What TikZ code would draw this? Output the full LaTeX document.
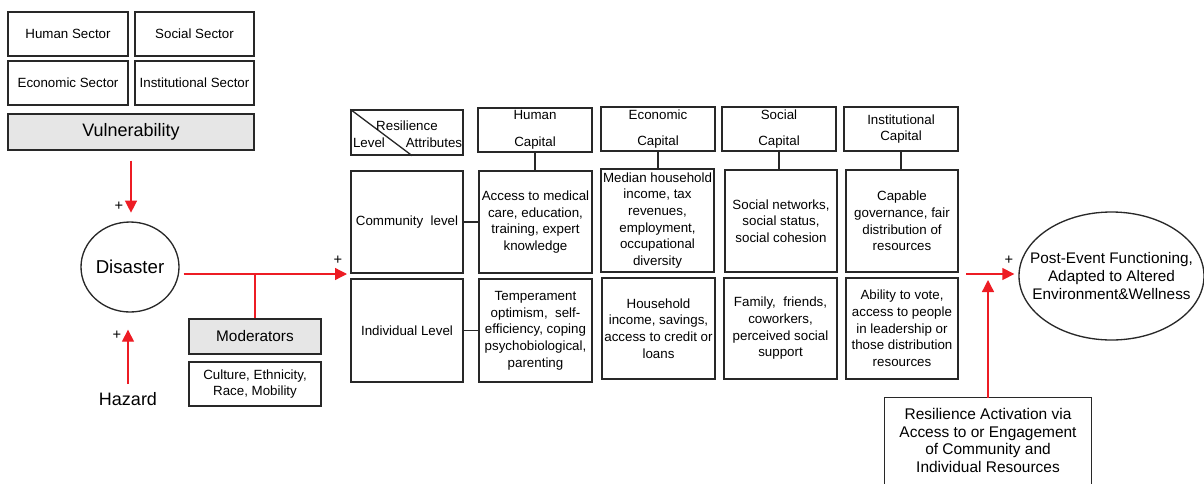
\documentclass[tikz,border=0pt]{standalone}
\usepackage{fontspec}
\setmainfont{Liberation Sans}
\usetikzlibrary{shapes.geometric,arrows.meta,calc}
\definecolor{myred}{RGB}{237,28,36}
\definecolor{boxgray}{RGB}{230,230,230}
\definecolor{edgec}{RGB}{40,40,40}
\newcommand{\mybox}[7][]{%
  \node[box,#1,minimum width={(#5-#3)*0.75pt},minimum height={(#6-#4)*0.75pt}] (#2) at ({(#3+#5)/2},{(#4+#6)/2}) {#7};}
\tikzset{
  box/.style={draw=edgec, line width=1pt, inner sep=0pt, align=center, font=\fontsize{10}{12.5}\selectfont},
  graybox/.style={fill=boxgray},
  redarrow/.style={draw=myred, line width=1pt, -{Triangle[length=9pt,width=9pt]}},
  redline/.style={draw=myred, line width=1pt},
  conn/.style={draw=edgec, line width=1pt},
  plus/.style={inner sep=0pt, font=\fontsize{11}{12}\selectfont},
  lbl/.style={inner sep=0pt, font=\fontsize{10}{12}\selectfont},
}
\begin{document}
\begin{tikzpicture}[x=0.75pt,y=-0.75pt]
\useasboundingbox (0,0) rectangle (1204,483);
\begin{scope}
\clip (0,0) rectangle (1204,483);
% sectors
\mybox{hs}{8}{12}{128}{56}{Human Sector}
\mybox{ss}{135}{12}{254}{56}{Social Sector}
\mybox{es}{8}{61}{128}{105}{Economic Sector}
\mybox{is}{135}{61}{254}{105}{Institutional Sector}
\mybox[graybox,font=\fontsize{13.5}{16}\selectfont]{vul}{8}{114}{254}{150}{Vulnerability}
% disaster
\node[ellipse, draw=edgec, line width=1pt, minimum width=98*0.75pt, minimum height=90*0.75pt, inner sep=0pt, font=\fontsize{14}{16}\selectfont] (dis) at (130,267) {Disaster};
\node[inner sep=0pt, font=\fontsize{13.5}{16}\selectfont] (haz) at (128,399) {Hazard};
\mybox[graybox,font=\fontsize{11.5}{14}\selectfont]{mod}{189}{319}{321}{354}{Moderators}
\mybox{cul}{189}{362}{321}{406}{Culture, Ethnicity,\\Race, Mobility}
% table header
\mybox{rh}{351}{110}{463}{155}{}
\draw[conn] (rh.north west) -- ($(rh.south west)!0.545!(rh.south east)$);
\node[lbl] (rhres) at (407,126) {Resilience};
\node[lbl] (rhlev) at (369,143) {Level};
\node[lbl] (rhatt) at (434,143) {Attributes};
\mybox{hc}{478}{108}{592}{152}{Human\\[7.5pt]Capital}
\mybox{ec}{601}{107}{715}{151}{Economic\\[7.5pt]Capital}
\mybox{sc}{722}{107}{836}{151}{Social\\[7.5pt]Capital}
\mybox{ic}{844}{107}{958}{151}{Institutional\\Capital}
% community row
\mybox{cl}{351}{171}{463}{273}{Community\ \ level}
\mybox{hcm}{479}{171}{592}{273}{Access to medical\\care, education,\\training, expert\\knowledge}
\mybox{ecm}{601}{169}{714}{272}{Median household\\income, tax\\revenues,\\employment,\\occupational\\diversity}
\mybox{scm}{725}{170}{837}{272}{Social networks,\\social status,\\social cohesion}
\mybox{icm}{846}{170}{958}{272}{Capable\\governance, fair\\distribution of\\resources}
% individual row
\mybox{il}{351}{279}{463}{382}{Individual Level}
\mybox{hin}{479}{279}{592}{382}{Temperament\\optimism,\ \ self-\\efficiency, coping\\psychobiological,\\parenting}
\mybox{ein}{602}{278}{715}{379}{Household\\income, savings,\\access to credit or\\loans}
\mybox{sin}{724}{278}{837}{379}{Family,\ \ friends,\\coworkers,\\perceived social\\support}
\mybox{iin}{846}{278}{958}{379}{Ability to vote,\\access to people\\in leadership or\\those distribution\\resources}
% black connectors
\draw[conn] (hc.south) -- (hc.south |- hcm.north);
\draw[conn] (ec.south) -- (ec.south |- ecm.north);
\draw[conn] (sc.south) -- (sc.south |- scm.north);
\draw[conn] (ic.south) -- (ic.south |- icm.north);
\draw[conn] (cl.east) -- (hcm.west);
\draw[conn] (il.east) -- (hin.west);
% outcome
\node[ellipse, draw=edgec, line width=1pt, minimum width=185*0.75pt, minimum height=128*0.75pt, inner sep=0pt] (post) at (1111.5,276) {};
\node[inner sep=0pt, align=center, font=\fontsize{11.5}{13.5}\selectfont] (posttext) at (post.center) {Post-Event Functioning,\\Adapted to Altered\\Environment\&Wellness};
\node[inner sep=0pt, minimum width=206*0.75pt, minimum height=85*0.75pt, align=center, font=\fontsize{11.6}{13.1}\selectfont] (ra) at (988,440.5) {Resilience Activation via\\Access to or Engagement\\of Community and\\Individual Resources};
\draw[conn] ([yshift=-2pt]ra.south west) -- (ra.north west) -- (ra.north east) -- ([yshift=-2pt]ra.south east);
% red connectors
\coordinate (tabin) at (351,274);
\coordinate (tabout) at (958,274);
\draw[redarrow, shorten <=7.5pt, shorten >=6.5pt] (vul.south) -- (vul.south |- dis.north);
\draw[redarrow, shorten <=6pt, shorten >=12.75pt] (haz.north) -- (haz.north |- dis.south);
\draw[redarrow, shorten <=3pt, shorten >=3pt] (dis.east |- tabin) -- (tabin);
\draw[redline] (mod.north) -- (mod.north |- tabin);
\draw[redarrow, shorten <=6pt, shorten >=3pt] (tabout) -- (tabout -| post.west);
\draw[redarrow, shorten >=4.5pt] (ra.north) -- (ra.north |- tabout);
% plus signs
\node[plus] (p1) at (119,206) {+};
\node[plus] (p2) at (117,335) {+};
\node[plus] (p3) at (338,260) {+};
\node[plus] (p4) at (1009,260) {+};
\end{scope}
\end{tikzpicture}
\end{document}
